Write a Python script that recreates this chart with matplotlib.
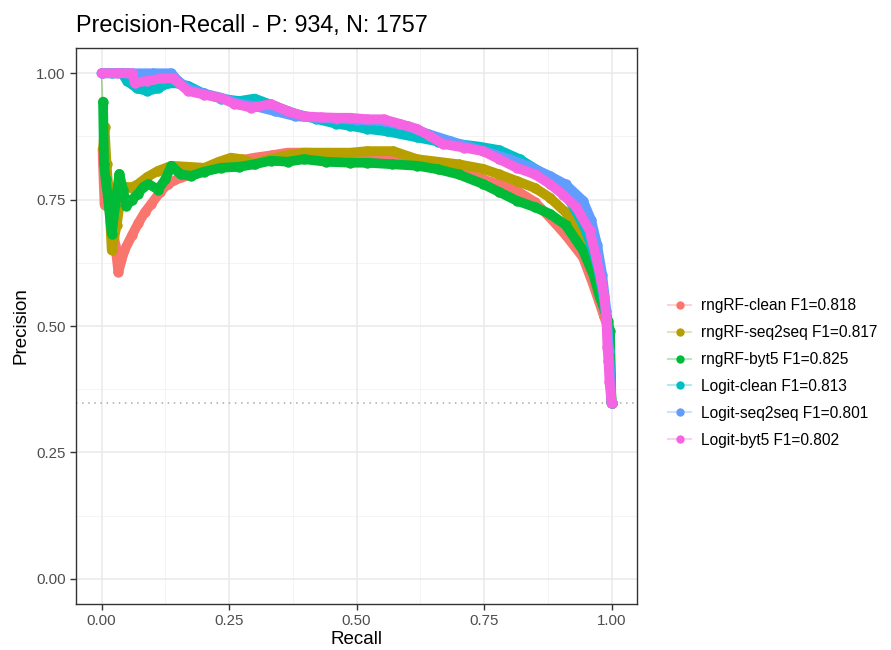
import matplotlib
matplotlib.use("Agg")
import matplotlib.pyplot as plt
from matplotlib.lines import Line2D

plt.rcParams['font.family'] = ['Liberation Sans', 'DejaVu Sans']

# series names and colours (ggplot default hue palette)
labels = ["rngRF-clean F1=0.818", "rngRF-seq2seq F1=0.817", "rngRF-byt5 F1=0.825",
          "Logit-clean F1=0.813", "Logit-seq2seq F1=0.801", "Logit-byt5 F1=0.802"]
colors = ["#F8766D", "#B79F00", "#00BA38", "#00BFC4", "#619CFF", "#F564E3"]

# rngRF-clean
rec_rf_clean = [0, 0.002, 0.004, 0.006, 0.012, 0.02, 0.027, 0.033, 0.045, 0.06, 0.072, 0.085,
                0.098, 0.115, 0.13, 0.156, 0.18, 0.202, 0.235, 0.267, 0.30, 0.335, 0.365, 0.40,
                0.44, 0.48, 0.521, 0.56, 0.60, 0.64, 0.68, 0.72, 0.748, 0.78, 0.814, 0.85, 0.879,
                0.91, 0.944, 0.963, 0.975, 0.985, 0.992, 0.996, 1.0]
prec_rf_clean = [1.0, 0.85, 0.79, 0.74, 0.78, 0.72, 0.66, 0.607, 0.65, 0.68, 0.703, 0.725,
                 0.742, 0.765, 0.781, 0.794, 0.800, 0.807, 0.815, 0.827, 0.833, 0.838, 0.843, 0.843,
                 0.842, 0.840, 0.840, 0.838, 0.83, 0.82, 0.81, 0.80, 0.79, 0.78, 0.768, 0.745, 0.715,
                 0.68, 0.636, 0.585, 0.55, 0.52, 0.50, 0.45, 0.347]

# rngRF-seq2seq
rec_rf_s2s = [0, 0.003, 0.006, 0.01, 0.015, 0.02, 0.03, 0.039, 0.05, 0.059, 0.072, 0.09, 0.111,
              0.137, 0.17, 0.202, 0.23, 0.254, 0.275, 0.299, 0.33, 0.365, 0.397, 0.44, 0.488,
              0.521, 0.572, 0.619, 0.66, 0.70, 0.748, 0.78, 0.814, 0.85, 0.879, 0.91, 0.931,
              0.955, 0.97, 0.982, 0.99, 0.996, 1.0]
prec_rf_s2s = [1.0, 0.85, 0.893, 0.82, 0.75, 0.65, 0.70, 0.767, 0.775, 0.774, 0.781, 0.795, 0.807,
               0.817, 0.815, 0.813, 0.825, 0.833, 0.830, 0.821, 0.830, 0.838, 0.843, 0.843, 0.843,
               0.846, 0.846, 0.830, 0.825, 0.82, 0.811, 0.80, 0.787, 0.773, 0.754, 0.725, 0.695,
               0.66, 0.62, 0.57, 0.52, 0.48, 0.347]

# rngRF-byt5
rec_rf_byt5 = [0, 0.003, 0.005, 0.008, 0.012, 0.016, 0.02, 0.027, 0.035, 0.042, 0.049, 0.06,
               0.072, 0.082, 0.092, 0.111, 0.125, 0.137, 0.155, 0.176, 0.20, 0.234, 0.27, 0.30,
               0.332, 0.365, 0.397, 0.44, 0.488, 0.521, 0.57, 0.619, 0.66, 0.70, 0.748, 0.78,
               0.814, 0.85, 0.879, 0.91, 0.944, 0.965, 0.977, 0.987, 0.993, 0.997, 1.0]
prec_rf_byt5 = [1.0, 0.944, 0.82, 0.79, 0.76, 0.72, 0.683, 0.74, 0.801, 0.77, 0.738, 0.75,
                0.762, 0.775, 0.781, 0.77, 0.79, 0.817, 0.80, 0.797, 0.805, 0.813, 0.815, 0.82,
                0.827, 0.825, 0.83, 0.825, 0.823, 0.823, 0.82, 0.817, 0.81, 0.80, 0.781, 0.765,
                0.748, 0.735, 0.722, 0.70, 0.65, 0.60, 0.557, 0.53, 0.51, 0.49, 0.347]

# Logit-clean
rec_lg_clean = [0, 0.02, 0.04, 0.05, 0.07, 0.09, 0.11, 0.13, 0.15, 0.17, 0.20, 0.234, 0.27, 0.30,
                0.34, 0.38, 0.42, 0.46, 0.488, 0.52, 0.56, 0.619, 0.66, 0.70, 0.74, 0.78, 0.82,
                0.86, 0.89, 0.92, 0.945, 0.96, 0.972, 0.982, 0.99, 0.995, 1.0]
prec_lg_clean = [1.0, 1.0, 1.0, 0.985, 0.97, 0.965, 0.97, 0.98, 0.98, 0.975, 0.96, 0.95, 0.945,
                 0.95, 0.935, 0.92, 0.91, 0.90, 0.896, 0.89, 0.885, 0.873, 0.865, 0.86, 0.855,
                 0.848, 0.83, 0.805, 0.78, 0.745, 0.70, 0.66, 0.62, 0.57, 0.52, 0.45, 0.347]

# Logit-seq2seq
rec_lg_s2s = [0, 0.05, 0.10, 0.137, 0.15, 0.17, 0.20, 0.234, 0.27, 0.30, 0.34, 0.38, 0.42, 0.46,
              0.50, 0.553, 0.60, 0.64, 0.684, 0.72, 0.76, 0.80, 0.84, 0.879, 0.91, 0.944, 0.96,
              0.972, 0.982, 0.99, 0.995, 1.0]
prec_lg_s2s = [1.0, 1.0, 1.0, 1.0, 0.985, 0.97, 0.96, 0.952, 0.94, 0.935, 0.925, 0.915, 0.912,
               0.91, 0.908, 0.905, 0.895, 0.88, 0.866, 0.855, 0.843, 0.83, 0.815, 0.797, 0.78,
               0.748, 0.71, 0.66, 0.60, 0.53, 0.45, 0.347]

# Logit-byt5
rec_lg_byt5 = [0, 0.03, 0.06, 0.065, 0.09, 0.12, 0.14, 0.17, 0.20, 0.234, 0.26, 0.293, 0.332,
               0.365, 0.397, 0.43, 0.462, 0.488, 0.521, 0.553, 0.585, 0.619, 0.645, 0.670, 0.71,
               0.748, 0.78, 0.814, 0.85, 0.879, 0.905, 0.931, 0.957, 0.970, 0.98, 0.986, 0.99,
               0.992, 0.994, 0.996, 1.0]
prec_lg_byt5 = [1.0, 1.0, 1.0, 0.981, 0.985, 0.99, 0.99, 0.965, 0.958, 0.951, 0.94, 0.932, 0.939,
                0.925, 0.915, 0.913, 0.912, 0.912, 0.909, 0.909, 0.90, 0.89, 0.875, 0.860, 0.853,
                0.846, 0.83, 0.813, 0.80, 0.781, 0.76, 0.735, 0.689, 0.636, 0.59, 0.557, 0.512,
                0.459, 0.43, 0.39, 0.347]

baseline = 934 / (934 + 1757)

recalls = [rec_rf_clean, rec_rf_s2s, rec_rf_byt5, rec_lg_clean, rec_lg_s2s, rec_lg_byt5]
precs = [prec_rf_clean, prec_rf_s2s, prec_rf_byt5, prec_lg_clean, prec_lg_s2s, prec_lg_byt5]
# rngRF curves start with a lone (0, 1) point joined only by the faint line
band_start = [1, 1, 1, 0, 0, 0]

fig = plt.figure(figsize=(8.91, 6.5), dpi=100)
ax = fig.add_axes([76 / 891, 1 - 604 / 650, (637 - 76) / 891, (604 - 48) / 650])

# grid like theme_bw
for v in [0.125, 0.375, 0.625, 0.875]:
    ax.axvline(v, color="#F2F2F2", lw=0.6, zorder=0)
    ax.axhline(v, color="#F2F2F2", lw=0.6, zorder=0)
for v in [0, 0.25, 0.5, 0.75, 1.0]:
    ax.axvline(v, color="#EBEBEB", lw=1.2, zorder=0)
    ax.axhline(v, color="#EBEBEB", lw=1.2, zorder=0)

ax.axhline(baseline, color="#AAAAAA", lw=1.1, ls=(0, (1, 3)), zorder=1)

handles = []
for r, p, c, s in zip(recalls, precs, colors, band_start):
    ax.plot(r, p, color=c, lw=0.8, alpha=0.3, zorder=2)
    ax.plot(r[s:], p[s:], color=c, lw=7, solid_capstyle='round',
            solid_joinstyle='round', zorder=3)
    ax.plot(r[s:], p[s:], 'o', color=c, ms=7.5, mew=0, zorder=3)
    handles.append((Line2D([], [], color=c, lw=1.5, alpha=0.3),
                    Line2D([], [], color=c, marker='o', ms=6, mew=0, lw=0)))

ax.set_xlim(-0.05, 1.05)
ax.set_ylim(-0.05, 1.05)
ax.set_xticks([0, 0.25, 0.5, 0.75, 1.0])
ax.set_yticks([0, 0.25, 0.5, 0.75, 1.0])
ax.set_xticklabels(["0.00", "0.25", "0.50", "0.75", "1.00"])
ax.set_yticklabels(["0.00", "0.25", "0.50", "0.75", "1.00"])
ax.tick_params(colors="#333333", labelcolor="#4D4D4D", labelsize=10.8, length=4, width=1)
for sp in ax.spines.values():
    sp.set_color("#333333")
    sp.set_linewidth(1.0)

ax.set_xlabel("Recall", fontsize=13.5, labelpad=2)
ax.set_ylabel("Precision", fontsize=13.5, labelpad=5)
fig.text(76 / 891, 1 - 32 / 650, "Precision-Recall - P: 934, N: 1757", fontsize=16.8,
         ha="left", va="baseline")

leg = ax.legend(handles, labels, loc="center left", bbox_to_anchor=(657 / 891, 1 - 373 / 650),
                bbox_transform=fig.transFigure, frameon=False, fontsize=11.2,
                handlelength=1.5, labelspacing=0.76, handletextpad=0.6, borderpad=0.2)

fig.savefig("out.png", dpi=100)
